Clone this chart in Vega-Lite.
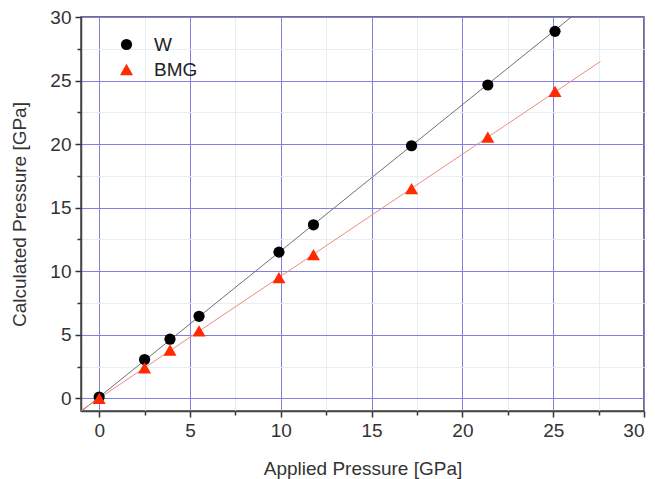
{
  "$schema": "https://vega.github.io/schema/vega-lite/v6.json",
  "autosize": {"type": "none"},
  "padding": {"left": 81, "top": 17, "right": 11, "bottom": 68},
  "width": 563,
  "height": 394,
  "background": "white",
  "config": {
    "view": {"stroke": "#444", "strokeWidth": 1.5},
    "font": "Liberation Sans",
    "axis": {"labelFont": "Liberation Sans", "titleFont": "Liberation Sans", "labelColor": "#333", "titleColor": "#333", "titleFontWeight": "normal"}
  },
  "datasets": {
    "pts": [
      {"series": "W", "applied": 0.0, "calc": 0.1},
      {"series": "W", "applied": 2.5, "calc": 3.05},
      {"series": "W", "applied": 3.9, "calc": 4.65},
      {"series": "W", "applied": 5.5, "calc": 6.45},
      {"series": "W", "applied": 9.9, "calc": 11.5},
      {"series": "W", "applied": 11.8, "calc": 13.65},
      {"series": "W", "applied": 17.2, "calc": 19.87},
      {"series": "W", "applied": 21.4, "calc": 24.65},
      {"series": "W", "applied": 25.1, "calc": 28.87},
      {"series": "BMG", "applied": 0.0, "calc": 0.0},
      {"series": "BMG", "applied": 2.5, "calc": 2.4},
      {"series": "BMG", "applied": 3.9, "calc": 3.8},
      {"series": "BMG", "applied": 5.5, "calc": 5.3},
      {"series": "BMG", "applied": 9.9, "calc": 9.5},
      {"series": "BMG", "applied": 11.8, "calc": 11.3},
      {"series": "BMG", "applied": 17.2, "calc": 16.5},
      {"series": "BMG", "applied": 21.4, "calc": 20.55},
      {"series": "BMG", "applied": 25.1, "calc": 24.15}
    ],
    "fits": [
      {"series": "W", "applied": -1.0, "calc": -1.05},
      {"series": "W", "applied": 26.0, "calc": 30.0},
      {"series": "BMG", "applied": -1.0, "calc": -0.96},
      {"series": "BMG", "applied": 27.6, "calc": 26.5}
    ]
  },
  "resolve": {"axis": {"x": "independent", "y": "independent"}},
  "layer": [
    {
      "data": {"name": "fits"},
      "mark": {"type": "line", "opacity": 0},
      "encoding": {
        "x": {"field": "applied", "type": "quantitative", "scale": {"domain": [-1, 30], "nice": false, "zero": false},
          "axis": {"orient": "bottom", "values": [2.5, 7.5, 12.5, 17.5, 22.5, 27.5], "labels": false, "domain": false, "ticks": true, "tickSize": 4, "tickColor": "#333", "tickWidth": 1.5, "grid": true, "gridColor": "#e4eef6", "gridWidth": 1, "title": null}},
        "y": {"field": "calc", "type": "quantitative", "scale": {"domain": [-1, 30], "nice": false, "zero": false},
          "axis": {"orient": "left", "values": [2.5, 7.5, 12.5, 17.5, 22.5, 27.5], "labels": false, "domain": false, "ticks": true, "tickSize": 4, "tickColor": "#333", "tickWidth": 1.5, "grid": true, "gridColor": "#e4eef6", "gridWidth": 1, "title": null}},
        "detail": {"field": "series"}
      }
    },
    {
      "data": {"name": "fits"},
      "transform": [{"filter": "datum.series === 'W'"}],
      "mark": {"type": "line", "strokeWidth": 1, "clip": true, "color": "#707070"},
      "encoding": {
        "x": {"field": "applied", "type": "quantitative", "scale": {"domain": [-1, 30], "nice": false, "zero": false},
          "axis": {"orient": "bottom", "values": [0, 5, 10, 15, 20, 25, 30], "labelFontSize": 19, "labelPadding": 4, "tickSize": 6, "tickColor": "#333", "tickWidth": 1.5, "domainColor": "#444", "domainWidth": 1.5, "grid": true, "gridColor": "#8080e0", "gridWidth": 1, "gridOpacity": 1, "title": "Applied Pressure [GPa]", "titleFontSize": 19, "titleY": 57, "titleBaseline": "middle"}},
        "y": {"field": "calc", "type": "quantitative", "scale": {"domain": [-1, 30], "nice": false, "zero": false},
          "axis": {"orient": "left", "values": [0, 5, 10, 15, 20, 25, 30], "labelFontSize": 19, "labelPadding": 4, "tickSize": 6, "tickColor": "#333", "tickWidth": 1.5, "domainColor": "#444", "domainWidth": 1.5, "grid": true, "gridColor": "#8080e0", "gridWidth": 1, "gridOpacity": 1, "title": "Calculated Pressure [GPa]", "titleFontSize": 19, "titleX": -62, "titleBaseline": "middle"}}
      }
    },
    {
      "data": {"name": "fits"},
      "transform": [{"filter": "datum.series === 'BMG'"}],
      "mark": {"type": "line", "strokeWidth": 1, "clip": true, "color": "#f08a80"},
      "encoding": {
        "x": {"field": "applied", "type": "quantitative", "axis": null},
        "y": {"field": "calc", "type": "quantitative", "axis": null}
      }
    },
    {
      "data": {"name": "pts"},
      "mark": {"type": "point", "filled": true, "opacity": 1},
      "encoding": {
        "x": {"field": "applied", "type": "quantitative", "axis": null},
        "y": {"field": "calc", "type": "quantitative", "axis": null},
        "color": {"field": "series", "type": "nominal", "scale": {"domain": ["W", "BMG"], "range": ["#000000", "#ff2a00"]},
          "legend": {"orient": "none", "legendX": 36, "legendY": 18, "title": null, "labelFontSize": 19, "labelColor": "#222", "labelFont": "Liberation Sans", "rowPadding": 5, "labelOffset": 18, "padding": 0}},
        "shape": {"field": "series", "type": "nominal", "scale": {"domain": ["W", "BMG"], "range": ["circle", "triangle-up"]}},
        "size": {"field": "series", "type": "nominal", "scale": {"domain": ["W", "BMG"], "range": [125, 170]}}
      }
    }
  ]
}
